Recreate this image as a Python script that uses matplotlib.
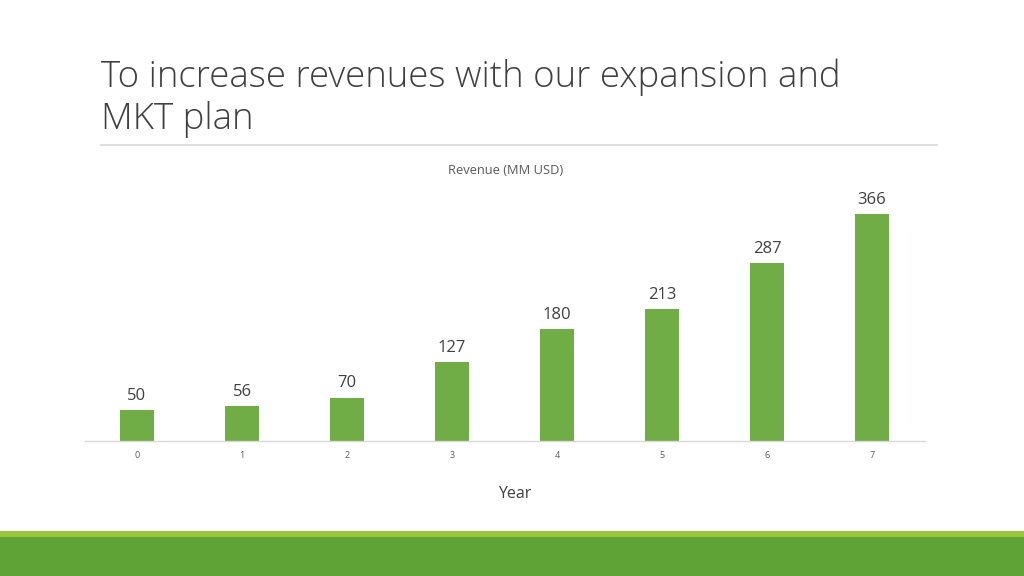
import matplotlib
matplotlib.use("Agg")
import matplotlib.pyplot as plt
from matplotlib.patches import Rectangle

years = ["0", "1", "2", "3", "4", "5", "6", "7"]
revenue = [50, 56, 70, 127, 180, 213, 287, 366]

W, H = 1024, 576
fig = plt.figure(figsize=(W / 100, H / 100), dpi=100)
fig.patch.set_facecolor("white")

def fx(px):
    return px / W

def fy(py):
    return 1 - py / H

# Title
fig.text(fx(101), fy(77), "To increase revenues with our expansion and",
         fontsize=26.4, family="Open Sans", weight="light", color="#404040", va="center", ha="left")
fig.text(fx(101), fy(120), "MKT plan",
         fontsize=26.4, family="Open Sans", weight="light", color="#404040", va="center", ha="left")
# separator line
fig.add_artist(plt.Line2D([fx(101), fx(937)], [fy(145), fy(145)], color="#d9d9d9", lw=1.2))

# bottom bands
fig.add_artist(Rectangle((0, 0), 1, fy(537), transform=fig.transFigure, color="#5fa236", lw=0))
fig.add_artist(Rectangle((0, fy(537)), 1, fy(531) - fy(537), transform=fig.transFigure, color="#9bc53d", lw=0))

# chart
ax_left, ax_right = 84.5, 924.5
ax_bottom = 441
ymax = 400
scale = (441 - 214) / 366.0
ax_top = ax_bottom - ymax * scale
ax = fig.add_axes([fx(ax_left), fy(ax_bottom), (ax_right - ax_left) / W, (ax_bottom - ax_top) / H])
x = list(range(len(years)))
bars = ax.bar(x, revenue, width=0.315, color="#70ad47")
ax.set_xlim(-0.5, len(years) - 0.5)
ax.set_ylim(0, ymax)
for s in ["top", "right", "left"]:
    ax.spines[s].set_visible(False)
ax.spines["bottom"].set_color("#d9d9d9")
ax.spines["bottom"].set_linewidth(1)
ax.set_yticks([])
ax.set_xticks(x)
ax.set_xticklabels(years, fontsize=6.5, color="#595959", family="Open Sans")
ax.tick_params(axis="x", length=0, pad=7)
ax.patch.set_alpha(0)
for xi, v in zip(x, revenue):
    ax.annotate(str(v), (xi, v), xytext=(0, 4.5), textcoords="offset points",
                ha="center", va="bottom", fontsize=12, color="#404040", family="Open Sans")

fig.text(fx(506), fy(171), "Revenue (MM USD)", fontsize=9.3, color="#595959",
         family="Open Sans", ha="center", va="center")
fig.text(fx(515), fy(494), "Year", fontsize=11.5, color="#404040",
         family="Open Sans", ha="center", va="center")

fig.savefig("out.png", dpi=100)
